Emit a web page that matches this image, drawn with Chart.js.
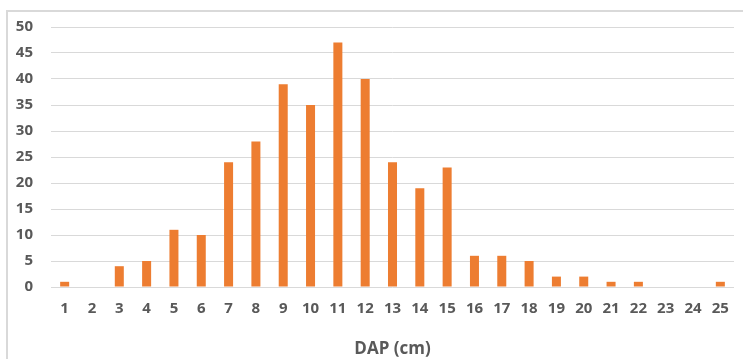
<!DOCTYPE html>
<html>
<head>
<meta charset="utf-8">
<script src="https://cdn.jsdelivr.net/npm/chart.js@4.4.1/dist/chart.umd.min.js"></script>
<style>
html,body{margin:0;padding:0;background:#fff;}
#wrap{position:relative;width:743px;height:359px;}
</style>
</head>
<body>
<div id="wrap"><canvas id="c" width="743" height="359"></canvas></div>
<script>
const categories = ["1","2","3","4","5","6","7","8","9","10","11","12","13","14","15","16","17","18","19","20","21","22","23","24","25"];
const counts = [1,0,4,5,11,10,24,28,39,35,47,40,24,19,23,6,6,5,2,2,1,1,0,0,1];
const yTicks = [0,5,10,15,20,25,30,35,40,45,50];
const xTitle = "DAP (cm)";

const frame = {
  id: 'frame',
  beforeDraw(chart) {
    const ctx = chart.ctx;
    ctx.save();
    ctx.fillStyle = '#ffffff';
    ctx.fillRect(0, 0, chart.width, chart.height);
    ctx.strokeStyle = '#d9d9d9';
    ctx.lineWidth = 2;
    ctx.strokeRect(7, 11, 800, 400);
    ctx.restore();
  }
};

new Chart(document.getElementById('c'), {
  type: 'bar',
  data: {
    labels: categories,
    datasets: [{
      data: counts,
      backgroundColor: '#ED7D31',
      borderWidth: 0,
      barPercentage: 0.66,
      categoryPercentage: 0.5
    }]
  },
  plugins: [frame],
  options: {
    responsive: false,
    animation: false,
    devicePixelRatio: 1,
    layout: { padding: { top: 25, right: 9, bottom: 0, left: 0 } },
    plugins: { legend: { display: false }, tooltip: { enabled: false } },
    scales: {
      x: {
        grid: { display: false, drawTicks: false },
        border: { display: false },
        ticks: { color: '#595959', font: { family: 'Open Sans', size: 15, weight: 'bold' }, padding: 13, maxRotation: 0, autoSkip: false },
        title: { display: true, text: xTitle, color: '#595959', font: { family: 'Open Sans', size: 17, weight: 'bold' }, padding: { top: 12, bottom: 0 } },
        afterFit(scale) { scale.height = 72; }
      },
      y: {
        min: 0, max: 50,
        afterBuildTicks(scale) { scale.ticks = yTicks.map(v => ({ value: v })); },
        grid: { color: '#d9d9d9', lineWidth: 1, drawTicks: false },
        border: { display: false },
        ticks: { color: '#595959', font: { family: 'Open Sans', size: 15, weight: 'bold' }, padding: 18 },
        afterFit(scale) { scale.width = 51; }
      }
    }
  }
});
</script>
</body>
</html>
